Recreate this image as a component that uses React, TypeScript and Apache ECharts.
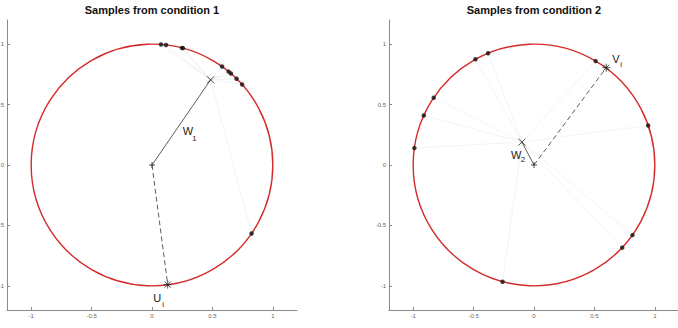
import React, { useEffect, useRef } from "react";
import * as echarts from "echarts";

const tickValues = [-1, -0.5, 0, 0.5, 1];
const titles = ["Samples from condition 1", "Samples from condition 2"];

// Panel 1 samples (points on the unit circle)
const samples1X = [0.074, 0.116, 0.248, 0.256, 0.58, 0.634, 0.653, 0.7, 0.746, 0.824];
const samples1Y = [0.997, 0.993, 0.969, 0.967, 0.815, 0.773, 0.757, 0.714, 0.666, -0.567];
const w1 = [0.485, 0.705];
const u1 = [0.13, -0.99];

// Panel 2 samples
const samples2X = [-0.485, -0.38, -0.83, -0.912, -0.99, 0.51, 0.945, -0.26, 0.73, 0.815];
const samples2Y = [0.875, 0.925, 0.557, 0.41, 0.14, 0.86, 0.327, -0.966, -0.684, -0.58];
const w2 = [-0.1, 0.19];
const v2 = [0.598, 0.805];

// label anchors: [x, y] in data units, main text, subscript
const labels1 = [
  { pos: [0.254, 0.283], main: "W", sub: "1", dx: 9.6, dy: 7.3 },
  { pos: [0.011, -1.099], main: "U", sub: "i", dx: 9, dy: 6.5 },
];
const labels2 = [
  { pos: [0.647, 0.878], main: "V", sub: "i", dx: 8, dy: 5.6 },
  { pos: [-0.19, 0.083], main: "W", sub: "2", dx: 9.7, dy: 4.3 },
];

const FONT = "'Liberation Sans', Arial, Helvetica, sans-serif";

function makeAxis(gridIndex: number, isX: boolean) {
  return {
    type: "value",
    gridIndex,
    min: -1.2,
    max: 1.2,
    splitLine: { show: false },
    axisLine: { show: true, onZero: false, lineStyle: { color: "#8a8a8a", width: 1 } },
    axisTick: {
      show: true,
      inside: true,
      length: 3,
      customValues: tickValues,
      lineStyle: { color: "#8a8a8a", width: 1 },
    },
    axisLabel: {
      show: true,
      customValues: tickValues,
      color: "#666",
      fontSize: 6,
      fontFamily: FONT,
      margin: isX ? 3 : 3,
      formatter: (v: number) => String(v),
    },
  };
}

function panelSeries(
  idx: number,
  sx: number[],
  sy: number[],
  w: number[],
  target: number[],
  labels: { pos: number[]; main: string; sub: string; dx: number; dy: number }[]
) {
  const axes = { xAxisIndex: idx, yAxisIndex: idx };
  const pts = sx.map((x, i) => [x, sy[i]]);
  return [
    {
      type: "lines",
      coordinateSystem: "cartesian2d",
      ...axes,
      silent: true,
      z: 1,
      lineStyle: { color: "rgba(0,0,0,0.05)", width: 1, opacity: 1 },
      data: pts.map((p) => ({ coords: [w, p] })),
    },
    {
      type: "custom",
      ...axes,
      z: 2,
      silent: true,
      clip: false,
      data: [[0, 0]],
      renderItem: (_params: any, api: any) => {
        const c = api.coord([0, 0]);
        const e = api.coord([1, 0]);
        const r = e[0] - c[0];
        return {
          type: "circle",
          shape: { cx: c[0], cy: c[1], r },
          style: { fill: "none", stroke: "#d42a2a", lineWidth: 1.4 },
        };
      },
    },
    {
      type: "line",
      ...axes,
      z: 3,
      silent: true,
      symbol: "none",
      lineStyle: { color: "#333", width: 0.8 },
      data: [[0, 0], w],
    },
    {
      type: "line",
      ...axes,
      z: 3,
      silent: true,
      symbol: "none",
      lineStyle: { color: "#333", width: 0.8, type: [5, 3] },
      data: [[0, 0], target],
    },
    {
      type: "scatter",
      ...axes,
      z: 4,
      silent: true,
      symbol: "circle",
      symbolSize: 4.5,
      itemStyle: { color: "#111" },
      data: pts,
    },
    {
      type: "custom",
      ...axes,
      z: 5,
      silent: true,
      clip: false,
      data: [
        [0, 0, 0],
        [w[0], w[1], 1],
        [target[0], target[1], 2],
      ],
      renderItem: (_params: any, api: any) => {
        const p = api.coord([api.value(0), api.value(1)]);
        const kind = api.value(2);
        const segs: number[][] = [];
        if (kind === 0) {
          segs.push([-3, 0, 3, 0], [0, -3, 0, 3]);
        } else if (kind === 1) {
          segs.push([-3.5, -3.5, 3.5, 3.5], [-3.5, 3.5, 3.5, -3.5]);
        } else {
          const d = 3;
          segs.push([-4, 0, 4, 0], [0, -4, 0, 4], [-d, -d, d, d], [-d, d, d, -d]);
        }
        return {
          type: "group",
          children: segs.map((s) => ({
            type: "line",
            shape: { x1: p[0] + s[0], y1: p[1] + s[1], x2: p[0] + s[2], y2: p[1] + s[3] },
            style: { stroke: "#222", lineWidth: 0.8 },
          })),
        };
      },
    },
    {
      type: "custom",
      ...axes,
      z: 6,
      silent: true,
      clip: false,
      data: labels.map((l, i) => [l.pos[0], l.pos[1], i]),
      renderItem: (_params: any, api: any) => {
        const p = api.coord([api.value(0), api.value(1)]);
        const l = labels[api.value(2)];
        return {
          type: "group",
          children: [
            {
              type: "text",
              x: p[0],
              y: p[1],
              style: {
                text: l.main,
                fill: "#222",
                font: `11px ${FONT}`,
                textAlign: "left",
                textVerticalAlign: "middle",
              },
            },
            {
              type: "text",
              x: p[0] + l.dx,
              y: p[1] + l.dy,
              style: {
                text: l.sub,
                fill: "#222",
                font: `8px ${FONT}`,
                textAlign: "left",
                textVerticalAlign: "middle",
              },
            },
          ],
        };
      },
    },
  ];
}

export default function App() {
  const ref = useRef<HTMLDivElement>(null);
  useEffect(() => {
    if (!ref.current) return;
    const chart = echarts.init(ref.current, null, { renderer: "svg" });
    chart.setOption({
      animation: false,
      backgroundColor: "#fff",
      grid: [
        { left: 7, top: 20, width: 290, height: 290, containLabel: false, outerBoundsMode: "none" },
        { left: 389, top: 20, width: 290, height: 290, containLabel: false, outerBoundsMode: "none" },
      ],
      xAxis: [makeAxis(0, true), makeAxis(1, true)],
      yAxis: [makeAxis(0, false), makeAxis(1, false)],
      graphic: [
        {
          type: "text",
          x: 152,
          y: 9.5,
          style: {
            text: titles[0],
            fill: "#111",
            font: `bold 11px ${FONT}`,
            textAlign: "center",
            textVerticalAlign: "middle",
          },
        },
        {
          type: "text",
          x: 534,
          y: 9.5,
          style: {
            text: titles[1],
            fill: "#111",
            font: `bold 11px ${FONT}`,
            textAlign: "center",
            textVerticalAlign: "middle",
          },
        },
      ],
      series: [
        ...panelSeries(0, samples1X, samples1Y, w1, u1, labels1),
        ...panelSeries(1, samples2X, samples2Y, w2, v2, labels2),
      ],
    });
    return () => chart.dispose();
  }, []);
  return (
    <div
      ref={ref}
      style={{ position: "absolute", left: 0, top: 0, width: 678, height: 328 }}
    />
  );
}
